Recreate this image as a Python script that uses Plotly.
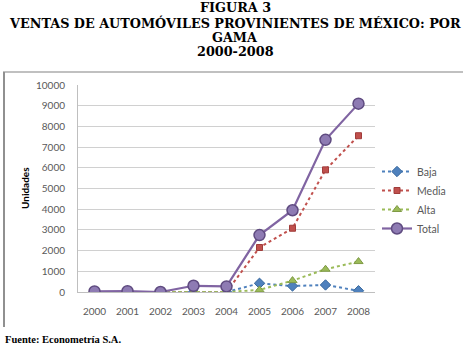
import plotly.graph_objects as go

years = ["2000", "2001", "2002", "2003", "2004", "2005", "2006", "2007", "2008"]
baja = [None, None, 0, 0, 0, 420, 290, 340, 60]
media = [None, None, 0, 0, 0, 2150, 3080, 5900, 7550]
alta = [None, None, 0, 0, 0, 100, 550, 1100, 1470]
total = [30, 40, 0, 300, 270, 2750, 3950, 7350, 9100]
y_ticks = [0, 1000, 2000, 3000, 4000, 5000, 6000, 7000, 8000, 9000, 10000]

fig = go.Figure()
fig.add_trace(go.Scatter(x=years, y=baja, name="Baja", mode="lines+markers",
                         line=dict(color="#4F81BD", width=2, dash="dot"),
                         marker=dict(symbol="diamond", size=8, color="#4F81BD",
                                     line=dict(color="#3A6A9E", width=1))))
fig.add_trace(go.Scatter(x=years, y=media, name="Media", mode="lines+markers",
                         line=dict(color="#C0504D", width=2, dash="dot"),
                         marker=dict(symbol="square", size=6, color="#C0504D",
                                     line=dict(color="#A03C3A", width=1))))
fig.add_trace(go.Scatter(x=years, y=alta, name="Alta", mode="lines+markers",
                         line=dict(color="#9BBB59", width=2, dash="dot"),
                         marker=dict(symbol="triangle-up", size=8, color="#9BBB59",
                                     line=dict(color="#7F9A45", width=1))))
fig.add_trace(go.Scatter(x=years, y=total, name="Total", mode="lines+markers",
                         line=dict(color="#8064A2", width=2.2),
                         marker=dict(symbol="circle", size=11, color="#8E7BB3",
                                     line=dict(color="#5F4B80", width=1.5))))

L, R, T, B = 78, 375, 85, 292
W, H = 470, 349
pw = R - L


def px(x):
    return (x - L) / pw


def py(y):
    return (B - y) / (B - T)


fig.update_layout(
    width=W, height=H,
    margin=dict(l=L, r=W - R, t=T, b=H - B, pad=0),
    paper_bgcolor="white", plot_bgcolor="white",
    font=dict(family="Lato", size=10, color="#595959"),
    showlegend=True,
    legend=dict(x=px(377), y=py(157), xanchor="left", yanchor="top",
                font=dict(family="Lato", size=10.5, color="#595959"),
                bgcolor="rgba(0,0,0,0)", itemwidth=30, tracegroupgap=4),
    xaxis=dict(type="category", range=[-0.5, 8.5], showgrid=False,
               showline=True, linecolor="#BFBFBF", linewidth=1,
               ticks="", ticklabelstandoff=10,
               tickfont=dict(family="Lato", size=10, color="#595959")),
    yaxis=dict(range=[0, 10000], tickvals=y_ticks, tickformat="d", showgrid=True,
               gridcolor="#D0D0D0", gridwidth=1, zeroline=False,
               showline=True, linecolor="#BFBFBF", linewidth=1,
               ticks="", ticklabelstandoff=10,
               tickfont=dict(family="Lato", size=10, color="#595959")),
    shapes=[
        dict(type="line", xref="paper", yref="paper",
             x0=px(3), x1=px(463), y0=py(72), y1=py(72),
             line=dict(color="#C0C0C0", width=2)),
        dict(type="line", xref="paper", yref="paper",
             x0=px(4), x1=px(4), y0=py(72), y1=py(327),
             line=dict(color="#909090", width=2)),
    ],
)

title_lines = ["FIGURA 3",
               "VENTAS DE AUTOMÓVILES PROVINIENTES DE MÉXICO: POR",
               "GAMA",
               "2000-2008"]
title_y = [8, 23, 37, 52]
for txt, yy in zip(title_lines, title_y):
    fig.add_annotation(text="<b>" + txt + "</b>", xref="paper", yref="paper",
                       x=px(235), y=py(yy), xanchor="center", yanchor="middle",
                       showarrow=False,
                       font=dict(family="DejaVu Serif", size=12.8, color="black"))

fig.add_annotation(text="<b>Unidades</b>", xref="paper", yref="paper",
                   x=px(25), y=py(188), textangle=-90,
                   xanchor="center", yanchor="middle", showarrow=False,
                   font=dict(family="Lato", size=10, color="#000000"))

fig.add_annotation(text="<b>Fuente: Econometría S.A.</b>", xref="paper", yref="paper",
                   x=px(3), y=py(339), xanchor="left", yanchor="middle",
                   showarrow=False,
                   font=dict(family="Liberation Serif", size=10.5, color="black"))

fig.write_html("out.html", config={"displayModeBar": False},
               post_script="document.body.style.margin='0';document.body.style.overflow='hidden';")
